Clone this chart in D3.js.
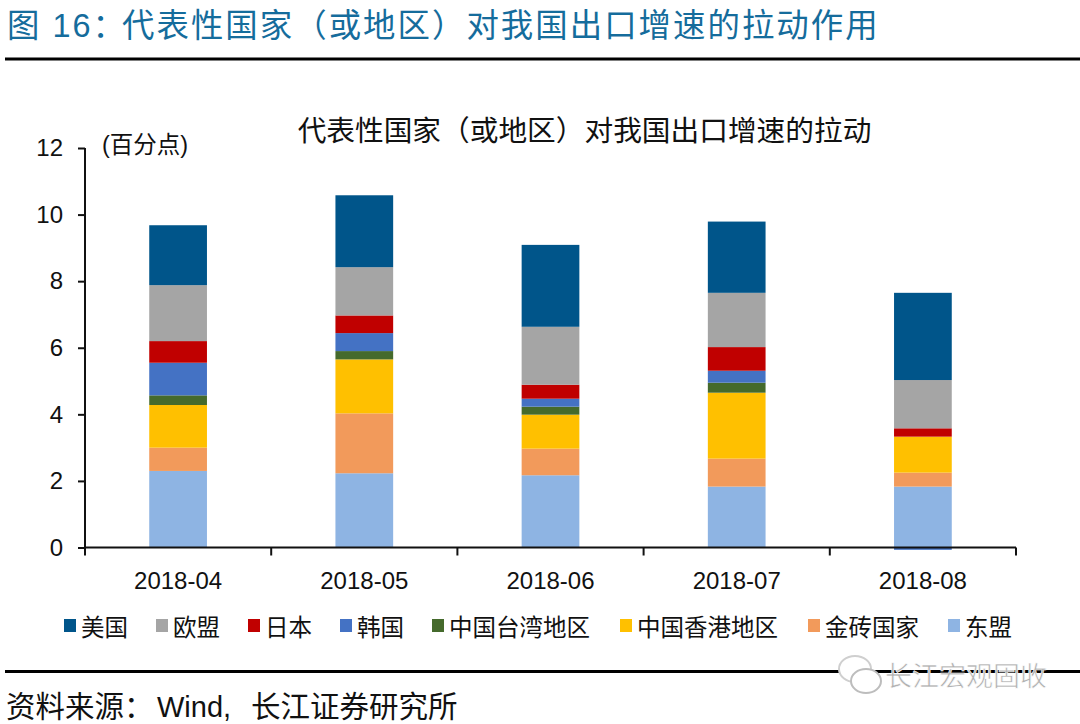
<!DOCTYPE html>
<html><head><meta charset="utf-8">
<script src="https://cdn.jsdelivr.net/npm/d3@7/dist/d3.min.js"></script>
<style>html,body{margin:0;padding:0;background:#fff}svg{display:block}text{font-family:"Liberation Sans","Noto Sans CJK SC",sans-serif}</style>
</head><body><svg id="c" width="1080" height="724"></svg>
<script>
const months = ["2018-04","2018-05","2018-06","2018-07","2018-08"];
const yTicks = [0,2,4,6,8,10,12];
const legendOrder = ["美国","欧盟","日本","韩国","中国台湾地区","中国香港地区","金砖国家","东盟"];
const stackOrder = ["东盟","金砖国家","中国香港地区","中国台湾地区","韩国","日本","欧盟","美国"];
const asean  = [2.30,2.23,2.17,1.83,1.83];
const brics  = [0.70,1.80,0.80,0.84,0.42];
const hk     = [1.28,1.62,1.02,1.98,1.08];
const taiwan = [0.29,0.25,0.24,0.30,0.00];
const korea  = [0.98,0.54,0.24,0.36,-0.07];
const japan  = [0.65,0.53,0.42,0.71,0.25];
const eu     = [1.68,1.45,1.74,1.63,1.45];
const usa    = [1.80,2.16,2.46,2.14,2.62];
const seriesValues = {"东盟":asean,"金砖国家":brics,"中国香港地区":hk,"中国台湾地区":taiwan,"韩国":korea,"日本":japan,"欧盟":eu,"美国":usa};
const colors = {"美国":"#00558A","欧盟":"#A5A5A5","日本":"#C00000","韩国":"#4472C4","中国台湾地区":"#456A2C","中国香港地区":"#FFC000","金砖国家":"#F29A5B","东盟":"#8EB4E3"};

const svg = d3.select("#c");
const ink = "#111";
const x = d3.scaleBand().domain(months).range([85,1016]).paddingInner(0.69).paddingOuter(0.345);
const y = d3.scaleLinear().domain([0,12]).range([547.5,148]);

// page furniture
const head = svg.append("text").attr("y",37).attr("font-size",32.4).attr("letter-spacing",2.05).attr("fill","#156C9C");
head.append("tspan").attr("x",7).text("图 16：");
head.append("tspan").attr("x",122).text("代表性国家（或地区）对我国出口增速的拉动作用");
[59,671.5].forEach(v=>svg.append("line").attr("x1",5).attr("x2",1080).attr("y1",v).attr("y2",v).attr("stroke","#000").attr("stroke-width",3));
const src = svg.append("text").attr("y",717).attr("font-size",29.5).attr("fill",ink);
src.append("tspan").attr("x",6).text("资料来源：");
src.append("tspan").attr("x",157).attr("font-size",29).text("Wind,");
src.append("tspan").attr("x",251).text("长江证券研究所");

// chart title & unit
svg.append("text").attr("x",584.5).attr("y",141).attr("text-anchor","middle").attr("font-size",28.7).attr("fill",ink)
  .text("代表性国家（或地区）对我国出口增速的拉动");
svg.append("text").attr("x",102).attr("y",153).attr("font-size",23.5).attr("fill",ink).text("(百分点)");

// stacked bars
const rows = months.map((m,i)=>{const r={month:m};stackOrder.forEach(k=>r[k]=seriesValues[k][i]);return r;});
const stacked = d3.stack().keys(stackOrder).offset(d3.stackOffsetDiverging)(rows);
svg.append("g").selectAll("g").data(stacked).join("g").attr("fill",d=>colors[d.key])
  .selectAll("rect").data(d=>d).join("rect")
  .attr("x",d=>x(d.data.month)).attr("width",x.bandwidth())
  .attr("y",d=>y(Math.max(d[0],d[1]))).attr("height",d=>Math.abs(y(d[0])-y(d[1])));

// y axis
const yAxis = svg.append("g").attr("transform","translate(85,0)")
  .call(d3.axisLeft(y).tickValues(yTicks).tickSize(7).tickPadding(15));
yAxis.selectAll("text").attr("font-size",24).attr("fill",ink);
yAxis.selectAll("line").attr("stroke",ink).attr("stroke-width",2);
yAxis.select(".domain").attr("stroke",ink).attr("stroke-width",2).attr("d",`M0,${y(12)}V${y(0)}`);

// x axis
const xAxis = svg.append("g").attr("transform",`translate(0,${y(0)})`)
  .call(d3.axisBottom(x).tickSize(0).tickPadding(24));
xAxis.selectAll("text").attr("font-size",24).attr("fill",ink);
xAxis.select(".domain").attr("stroke",ink).attr("stroke-width",2).attr("d","M85,0H1016");
const bounds = months.map(m=>x(m)+x.bandwidth()/2-x.step()/2).concat([x(months[months.length-1])+x.bandwidth()/2+x.step()/2]);
xAxis.selectAll("line.b").data(bounds).join("line").attr("class","b")
  .attr("x1",d=>d).attr("x2",d=>d).attr("y1",0).attr("y2",8).attr("stroke",ink).attr("stroke-width",2);

// legend
let lx = 64;
const lg = svg.append("g");
legendOrder.forEach(k=>{
  lg.append("rect").attr("x",lx).attr("y",619).attr("width",12).attr("height",13).attr("fill",colors[k]);
  lg.append("text").attr("x",lx+17).attr("y",636).attr("font-size",23.5).attr("fill",ink).text(k);
  lx += 44 + 24*k.length;
});

// watermark
const wm = svg.append("g");
wm.append("ellipse").attr("cx",855).attr("cy",669).attr("rx",16).attr("ry",13).attr("fill","#fff").attr("stroke","#cfcfcf").attr("stroke-width",2);
wm.append("ellipse").attr("cx",866).attr("cy",681).attr("rx",15).attr("ry",12).attr("fill","#fff").attr("stroke","#bdbdbd").attr("stroke-width",2);
wm.append("text").attr("x",885).attr("y",686).attr("font-size",27).attr("fill","#b0b0b0").attr("stroke","#fff").attr("stroke-width",0.6)
  .text("长江宏观固收");
</script></body></html>
